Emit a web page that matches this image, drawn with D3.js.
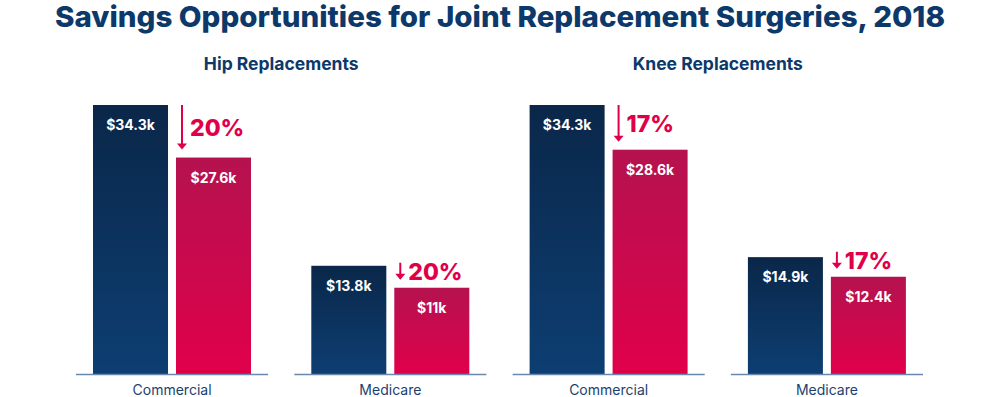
<!DOCTYPE html>
<html lang="en">
<head>
  <meta charset="UTF-8">
  <title>Savings Opportunities for Joint Replacement Surgeries, 2018</title>
  <style>
    body { margin: 0; background: #fff; }
    text { font-family: Inter, "Noto Sans", sans-serif; }
  </style>
</head>
<body>

<svg id="chart" width="1000" height="397"></svg>

<script src="https://cdn.jsdelivr.net/npm/d3@7"></script>

<script>

    // data, in thousands of dollars
    var panels = ["Hip Replacements", "Knee Replacements"];
    var payers = ["Commercial", "Medicare"];
    var groupKeys = ["Hip|Commercial", "Hip|Medicare", "Knee|Commercial", "Knee|Medicare"];
    var currentCost = [34.3, 13.8, 34.3, 14.9];
    var targetCost = [27.6, 11, 28.6, 12.4];
    var savingsPct = [20, 20, 17, 17];

    var svg = d3.select("#chart"),
        navy = "#0c386a",
        red = "#e0004a",
        baseline = 374;

    var x0 = d3.scaleBand().domain(groupKeys).range([76, 923]).paddingInner(0.12),
        x1 = d3.scaleBand().domain(["current", "target"]).range([17, 175]).paddingInner(0.096),
        y = d3.scaleLinear().domain([0, 34.3]).range([baseline, 105]);

    // gradients
    var defs = svg.append("defs");
    function grad(id, top, bottom) {
      var g = defs.append("linearGradient").attr("id", id)
        .attr("x1", 0).attr("y1", 0).attr("x2", 0).attr("y2", 1);
      g.append("stop").attr("offset", "0%").attr("stop-color", top);
      g.append("stop").attr("offset", "100%").attr("stop-color", bottom);
    }
    grad("gNavy", "#0a2749", "#0d3e72");
    grad("gRed", "#b5124f", "#e0004a");

    svg.append("text")
      .attr("x", 500).attr("y", 27)
      .attr("text-anchor", "middle")
      .attr("fill", navy)
      .style("font-size", "29px").style("font-weight", 800)
      .attr("textLength", 890).attr("lengthAdjust", "spacingAndGlyphs")
      .text("Savings Opportunities for Joint Replacement Surgeries, 2018");

    panels.forEach(function (p, i) {
      var a = x0(groupKeys[i * 2]), b = x0(groupKeys[i * 2 + 1]) + x0.bandwidth();
      svg.append("text")
        .attr("x", (a + b) / 2).attr("y", 70)
        .attr("text-anchor", "middle")
        .attr("fill", navy)
        .style("font-size", "17.5px").style("font-weight", 700)
        .text(p);
    });

    var rows = groupKeys.map(function (k, i) {
      return { key: k, payer: payers[i % 2], cur: currentCost[i], tgt: targetCost[i], pct: savingsPct[i] };
    });

    var g = svg.selectAll("g.grp").data(rows).enter().append("g")
      .attr("class", "grp")
      .attr("transform", function (d) { return "translate(" + x0(d.key) + ",0)"; });

    g.append("rect")
      .attr("x", x1("current")).attr("width", x1.bandwidth())
      .attr("y", function (d) { return y(d.cur); })
      .attr("height", function (d) { return baseline - y(d.cur); })
      .attr("fill", "url(#gNavy)");

    g.append("rect")
      .attr("x", x1("target")).attr("width", x1.bandwidth())
      .attr("y", function (d) { return y(d.tgt); })
      .attr("height", function (d) { return baseline - y(d.tgt); })
      .attr("fill", "url(#gRed)");

    g.append("line")
      .attr("x1", 0).attr("x2", x0.bandwidth())
      .attr("y1", baseline + 0.5).attr("y2", baseline + 0.5)
      .attr("stroke", "#6a88ac").attr("stroke-width", 1.5);

    g.selectAll("text.val")
      .data(function (d) { return [["current", d.cur], ["target", d.tgt]]; })
      .enter().append("text")
      .attr("class", "val")
      .attr("x", function (d) { return x1(d[0]) + x1.bandwidth() / 2; })
      .attr("y", function (d) { return y(d[1]) + 25; })
      .attr("text-anchor", "middle")
      .attr("fill", "#fff")
      .style("font-size", "14px").style("font-weight", 700)
      .text(function (d) { return "$" + d[1] + "k"; });

    g.append("text")
      .attr("x", x0.bandwidth() / 2).attr("y", 395)
      .attr("text-anchor", "middle")
      .attr("fill", "#1d3f6e")
      .style("font-size", "14px")
      .text(function (d) { return d.payer; });

    // savings arrows
    g.each(function (d) {
      var s = d3.select(this),
          ax = x1("target") + 6,
          tip = y(d.tgt) - 8,
          top = Math.min(y(d.cur), tip - 17),
          mid = (top + tip) / 2;
      s.append("line")
        .attr("x1", ax).attr("x2", ax)
        .attr("y1", top).attr("y2", tip - 5)
        .attr("stroke", red).attr("stroke-width", 2);
      s.append("path")
        .attr("d", "M" + (ax - 5) + "," + (tip - 6) + "L" + (ax + 5) + "," + (tip - 6) + "L" + ax + "," + tip + "Z")
        .attr("fill", red);
      s.append("text")
        .attr("x", ax + 8).attr("y", mid + 8.5)
        .attr("fill", red)
        .style("font-size", "23px").style("font-weight", 800)
        .text(d.pct + "%");
    });

</script>

</body>
</html>
